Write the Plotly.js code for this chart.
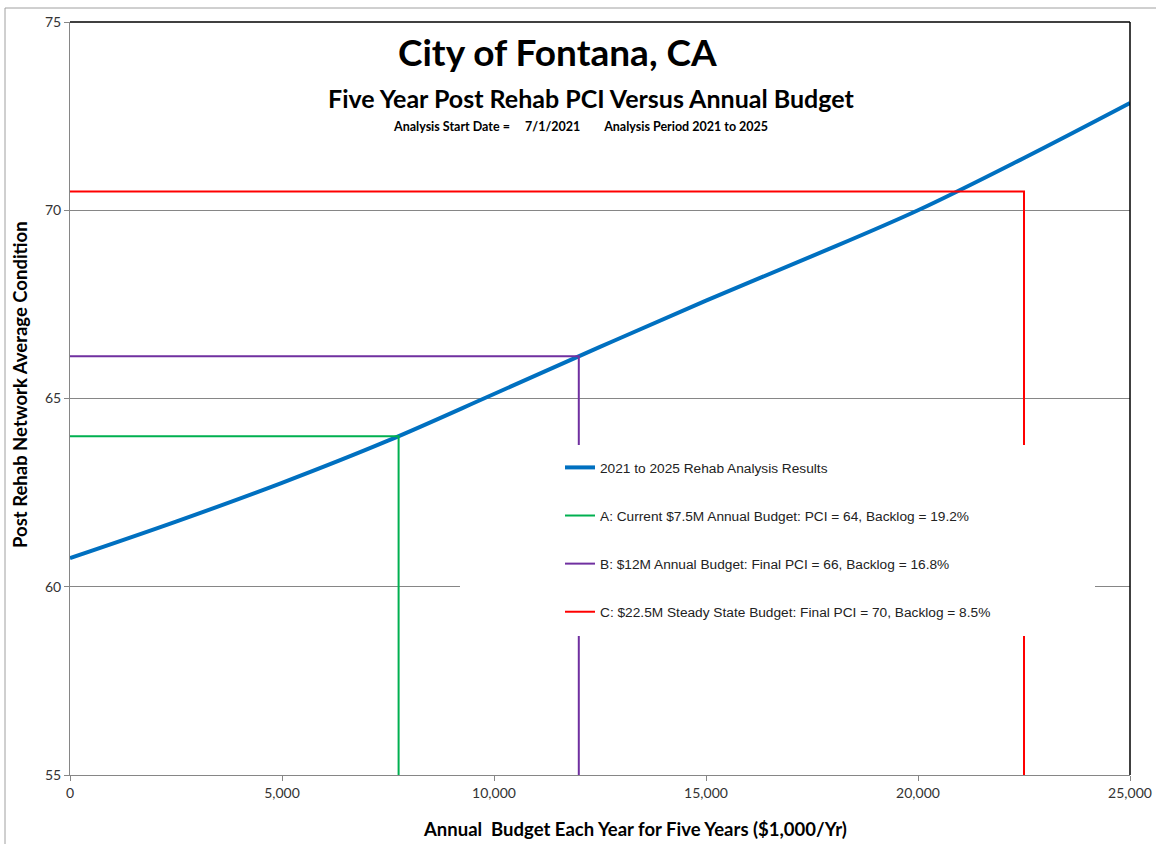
<!DOCTYPE html>
<html>
<head>
<meta charset="utf-8">
<script src="https://cdn.plot.ly/plotly-3.0.1.min.js"></script>
<style>
  body { margin: 0; padding: 0; background: #fff; }
  #chart { width: 1156px; height: 844px; }
</style>
</head>
<body>
<div id="chart"></div>
<script>
// annual budget ($1,000/yr) and resulting five year PCI
var budget = [0, 2500, 5000, 7500, 10000, 12500, 15000, 17500, 20000, 22500, 25000];
var pci = [60.76, 61.73, 62.76, 63.88, 65.12, 66.37, 67.60, 68.78, 70.00, 71.39, 72.85];

// scenario lines: budget level and the PCI it gives
var scenNames = [
    'A: Current $7.5M Annual Budget: PCI = 64, Backlog = 19.2%',
    'B: $12M Annual Budget: Final PCI = 66, Backlog = 16.8%',
    'C: $22.5M Steady State Budget: Final PCI = 70, Backlog = 8.5%'
];
var scenBudget = [7750, 12000, 22500];
var scenPci = [64.0, 66.12, 70.5];
var scenColors = ['#00B050', '#7030A0', '#FF0000'];

var yMin = 55, yMax = 75;

var data = [{
    type: 'scatter',
    mode: 'lines',
    x: budget,
    y: pci,
    name: '2021 to 2025 Rehab Analysis Results',
    legendgroup: 'g0',
    line: { color: '#0070C0', width: 4, shape: 'spline', smoothing: 1 }
}];

for (var i = 0; i < scenNames.length; i++) {
    data.push({
        type: 'scatter',
        mode: 'lines',
        x: [0, scenBudget[i], scenBudget[i]],
        y: [scenPci[i], scenPci[i], yMin],
        name: scenNames[i],
        legendgroup: 'g' + (i + 1),
        line: { color: scenColors[i], width: 2 }
    });
}

var tickFont = { family: 'Lato, sans-serif', size: 14, color: '#333' };
var boldFont = 'Lato, sans-serif';

// pixel helpers for the paper-placed text (plot area 70..1130 x, 22..775 y)
function px(v) { return (v - 70) / 1060; }
function py(v) { return (775 - v) / 753; }

var layout = {
    width: 1156,
    height: 844,
    margin: { l: 70, r: 26, t: 22, b: 69 },
    paper_bgcolor: '#fff',
    plot_bgcolor: '#fff',
    showlegend: true,
    legend: {
        x: px(560), y: py(452),
        xanchor: 'left', yanchor: 'top',
        bgcolor: 'rgba(0,0,0,0)',
        traceorder: 'grouped',
        tracegroupgap: 27.3,
        font: { family: 'Liberation Sans, Arial, sans-serif', size: 13.7, color: '#222' }
    },
    xaxis: {
        range: [0, 25000],
        dtick: 5000,
        tickformat: ',d',
        showgrid: false,
        zeroline: false,
        showline: true,
        linecolor: '#868686',
        linewidth: 1,
        ticks: 'outside',
        ticklen: 5,
        tickcolor: '#868686',
        tickfont: tickFont
    },
    yaxis: {
        range: [yMin, yMax],
        dtick: 5,
        showgrid: true,
        gridcolor: '#868686',
        gridwidth: 1,
        zeroline: false,
        showline: true,
        linecolor: '#868686',
        linewidth: 1,
        ticks: 'outside',
        ticklen: 5,
        tickcolor: '#868686',
        tickfont: tickFont
    },
    shapes: [
        // outer chart border
        { type: 'rect', xref: 'paper', yref: 'paper', x0: px(5), x1: 1.05, y0: -0.12, y1: py(8),
          line: { color: '#a0a0a0', width: 1 }, layer: 'below' },
        // black top and right edges of the plot area
        { type: 'line', xref: 'paper', yref: 'paper', x0: 0, x1: 1, y0: 1, y1: 1,
          line: { color: '#000', width: 1.5 } },
        { type: 'line', xref: 'paper', yref: 'paper', x0: 1, x1: 1, y0: 0, y1: 1,
          line: { color: '#000', width: 1.5 } },
        // white legend box
        { type: 'rect', xref: 'paper', yref: 'paper', x0: px(460), x1: px(1095), y0: py(636), y1: py(445),
          fillcolor: '#fff', line: { width: 0 }, layer: 'above' }
    ],
    annotations: [
        { text: '<b>City of Fontana, CA</b>', xref: 'paper', yref: 'paper',
          x: px(557), y: py(52), xanchor: 'center', yanchor: 'middle',
          showarrow: false, font: { family: boldFont, size: 37, color: '#000' } },
        { text: '<b>Five Year Post Rehab PCI Versus Annual Budget</b>', xref: 'paper', yref: 'paper',
          x: px(591), y: py(98), xanchor: 'center', yanchor: 'middle',
          showarrow: false, font: { family: boldFont, size: 25, color: '#000' } },
        { text: '<b>Analysis Start Date =     7/1/2021        Analysis Period 2021 to 2025</b>',
          xref: 'paper', yref: 'paper',
          x: px(580), y: py(127), xanchor: 'center', yanchor: 'middle',
          showarrow: false, font: { family: boldFont, size: 12.5, color: '#000' } },
        { text: '<b>Annual  Budget Each Year for Five Years ($1,000/Yr)</b>', xref: 'paper', yref: 'paper',
          x: px(635), y: py(829), xanchor: 'center', yanchor: 'middle',
          showarrow: false, font: { family: boldFont, size: 18.5, color: '#000' } },
        { text: '<b>Post Rehab Network Average Condition</b>', xref: 'paper', yref: 'paper',
          x: px(20), y: py(385), xanchor: 'center', yanchor: 'middle', textangle: -90,
          showarrow: false, font: { family: boldFont, size: 18.5, color: '#000' } }
    ]
};

var config = { responsive: false, displaylogo: false, displayModeBar: false, staticPlot: true };
Plotly.newPlot('chart', data, layout, config);
</script>
</body>
</html>
